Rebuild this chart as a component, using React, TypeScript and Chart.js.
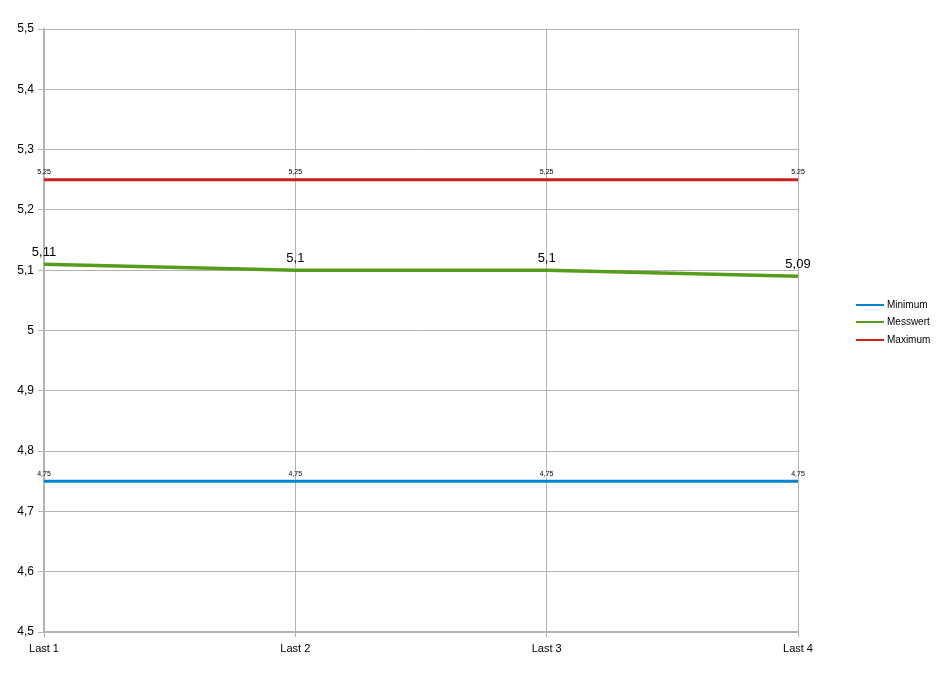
import React, { useEffect, useRef } from "react";
import { Chart, registerables } from "chart.js";

Chart.register(...registerables);

const categories = ["Last 1", "Last 2", "Last 3", "Last 4"];
const minimum = [4.75, 4.75, 4.75, 4.75];
const messwert = [5.11, 5.1, 5.1, 5.09];
const maximum = [5.25, 5.25, 5.25, 5.25];
const seriesLabels = ["Minimum", "Messwert", "Maximum"];
const seriesColors = ["#0084d1", "#579d1c", "#c9211e"];

const fmt = (v: number) => String(v).replace(".", ",");

const labelPlugin = {
  id: "valueLabels",
  afterDatasetsDraw(chart: any) {
    const ctx = chart.ctx;
    ctx.save();
    ctx.fillStyle = "#000";
    ctx.textAlign = "center";
    chart.data.datasets.forEach((ds: any, di: number) => {
      const meta = chart.getDatasetMeta(di);
      const big = di === 1;
      ctx.font = big ? "13px 'Liberation Sans', Arial, sans-serif" : "7px 'Liberation Sans', Arial, sans-serif";
      ctx.textBaseline = "bottom";
      meta.data.forEach((pt: any, i: number) => {
        const y = big ? pt.y - 5 : pt.y - 4;
        ctx.fillText(fmt(ds.data[i]), pt.x, y);
      });
    });
    ctx.restore();
  },
};

const legendPlugin = {
  id: "customLegend",
  afterDraw(chart: any) {
    const ctx = chart.ctx;
    ctx.save();
    ctx.font = "10px 'Liberation Sans', Arial, sans-serif";
    ctx.textBaseline = "middle";
    ctx.textAlign = "left";
    const ys = [305, 322, 340];
    chart.data.datasets.forEach((ds: any, di: number) => {
      const y = ys[di];
      ctx.strokeStyle = ds.borderColor;
      ctx.lineWidth = 2;
      ctx.beginPath();
      ctx.moveTo(856, y);
      ctx.lineTo(884, y);
      ctx.stroke();
      ctx.fillStyle = "#000";
      ctx.fillText(ds.label, 887, y);
    });
    ctx.restore();
  },
};

export default function App() {
  const ref = useRef<HTMLCanvasElement>(null);
  useEffect(() => {
    document.body.style.margin = "0";
    const data = [minimum, messwert, maximum];
    const chart = new Chart(ref.current as HTMLCanvasElement, {
      type: "line",
      data: {
        labels: categories,
        datasets: data.map((d, i) => ({
          label: seriesLabels[i],
          data: d,
          borderColor: seriesColors[i],
          backgroundColor: seriesColors[i],
          borderWidth: i === 1 ? 3.5 : 3,
          pointRadius: 0,
          tension: 0,
        })),
      },
      options: {
        animation: false,
        responsive: false,
        layout: { padding: { top: 29, right: 146, left: 0, bottom: 0 } },
        plugins: { legend: { display: false }, tooltip: { enabled: false } },
        scales: {
          x: {
            offset: false,
            grid: { color: "#b3b3b3", lineWidth: 1, tickLength: 5, drawTicks: true },
            border: { color: "#b3b3b3", width: 2 },
            ticks: {
              color: "#000",
              font: { family: "'Liberation Sans', Arial, sans-serif", size: 11 },
              padding: 5,
              maxRotation: 0,
            },
            afterFit: (s: any) => {
              s.height = 41;
            },
          },
          y: {
            min: 4.5,
            max: 5.5,
            grid: { color: "#b3b3b3", lineWidth: 1, tickLength: 6 },
            border: { color: "#b3b3b3", width: 2 },
            ticks: {
              stepSize: 0.1,
              color: "#000",
              font: { family: "'Liberation Sans', Arial, sans-serif", size: 12 },
              padding: 4,
              callback: (v: any) => fmt(Math.round(Number(v) * 10) / 10),
            },
            afterFit: (s: any) => {
              s.width = 44;
            },
          },
        },
      },
      plugins: [labelPlugin, legendPlugin],
    });
    return () => chart.destroy();
  }, []);
  return <canvas ref={ref} width={944} height={673} style={{ display: "block" }} />;
}
